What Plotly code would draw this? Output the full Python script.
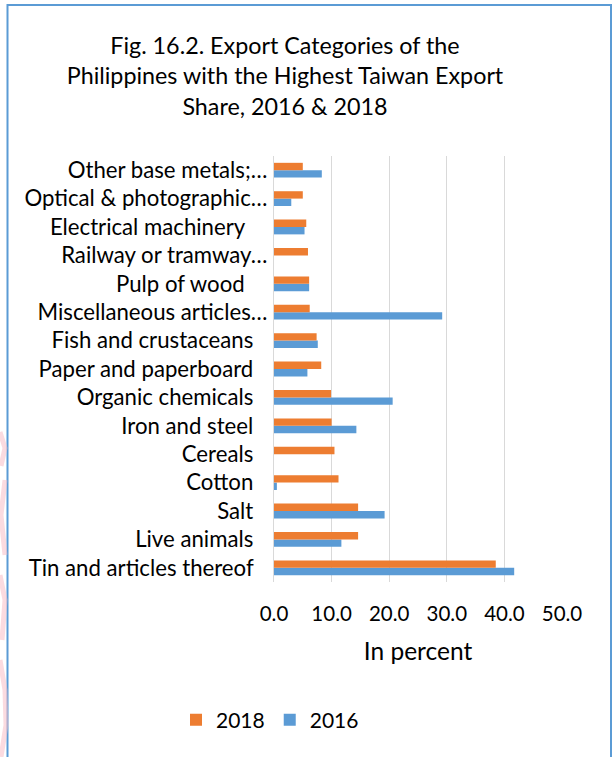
import plotly.graph_objects as go

# Export categories, listed bottom-to-top as they appear on the axis
categories = [
    "Tin and articles thereof",
    "Live animals",
    "Salt",
    "Cotton",
    "Cereals",
    "Iron and steel",
    "Organic chemicals",
    "Paper and paperboard",
    "Fish and crustaceans",
    "Miscellaneous articles…",
    "Pulp of wood",
    "Railway or tramway…",
    "Electrical machinery",
    "Optical & photographic…",
    "Other base metals;…",
]

# Taiwan export share, in percent
share_2018 = [38.5, 14.6, 14.6, 11.2, 10.5, 10.0, 9.9, 8.2, 7.4, 6.2, 6.1, 5.9, 5.6, 5.0, 5.0]
share_2016 = [41.7, 11.7, 19.2, 0.5, None, 14.3, 20.6, 5.8, 7.6, 29.2, 6.1, None, 5.3, 3.0, 8.3]

x_ticks = [0, 10, 20, 30, 40, 50]

W, H = 613, 757
ML, MR, MT, MB = 274, 51, 156, 175
FONT = "Lato, 'Open Sans', sans-serif"
ORANGE = "#ED7D31"
BLUE = "#5B9BD5"
GRID = "#D9D9D9"

# labels that are not truncated sit a little further from the axis
def pad(label):
    if label.endswith("…"):
        return label
    if label in ("Electrical machinery", "Pulp of wood"):
        return label + "\u00a0" * 4
    return label + "\u00a0\u00a0\u2009"

fig = go.Figure()
fig.add_trace(go.Bar(
    y=categories, x=share_2016, name="2016", orientation="h",
    marker=dict(color=BLUE, line=dict(width=0)),
))
fig.add_trace(go.Bar(
    y=categories, x=share_2018, name="2018", orientation="h",
    marker=dict(color=ORANGE, line=dict(width=0)),
))

# outer chart frame and page decoration, given in pixels and converted to paper units
pw, ph = W - ML - MR, H - MT - MB
def px_x(p):
    return (p - ML) / pw
def px_y(p):
    return (H - MB - p) / ph

fig.add_shape(
    type="rect", xref="paper", yref="paper",
    x0=px_x(7.5), x1=px_x(611), y0=px_y(765), y1=px_y(5),
    line=dict(color="#5B9BD5", width=2), fillcolor="rgba(0,0,0,0)", layer="below",
)

# faint pink strokes of a page watermark along the left edge
strokes = [
    [(0, 432), (5, 448), (1, 466)],
    [(5, 480), (1, 515), (5, 555)],
    [(0, 575), (5, 600), (2, 640)],
    [(0, 660), (5, 690), (6, 725), (1, 757)],
]
for s in strokes:
    (a0, b0), rest = s[0], s[1:]
    path = f"M {px_x(a0):.5f},{px_y(b0):.5f}"
    for a, b in rest:
        path += f" L {px_x(a):.5f},{px_y(b):.5f}"
    fig.add_shape(
        type="path", xref="paper", yref="paper", path=path,
        line=dict(color="rgba(248,190,198,0.55)", width=5), layer="below",
    )

fig.update_layout(
    width=W, height=H,
    margin=dict(l=ML, r=MR, t=MT, b=MB, pad=0),
    paper_bgcolor="white", plot_bgcolor="white",
    font=dict(family=FONT, color="#000000", size=21),
    barmode="group", bargap=0.48, bargroupgap=0,
    title=dict(
        text="Fig. 16.2. Export Categories of the<br>Philippines with the Highest Taiwan Export<br>Share, 2016 & 2018",
        x=285 / W, xanchor="center", xref="container",
        y=1 - 54 / H, yanchor="middle", yref="container",
        font=dict(family=FONT, size=23.3, color="#000000"),
    ),
    xaxis=dict(
        range=[0, 50], tickvals=x_ticks,
        ticktext=[f"{v:.1f}" for v in x_ticks],
        showgrid=True, gridcolor=GRID, gridwidth=1.3,
        zeroline=False, showline=False, ticks="",
        ticklabelstandoff=17,
        tickfont=dict(size=20.5),
        title=dict(text="In percent", standoff=19, font=dict(size=24.5)),
        fixedrange=True,
    ),
    yaxis=dict(
        type="category",
        tickvals=categories, ticktext=[pad(c) for c in categories],
        showgrid=False, zeroline=False,
        showline=True, linecolor=GRID, linewidth=1.3,
        ticks="", ticklabelstandoff=1,
        tickfont=dict(size=22.2),
        fixedrange=True,
    ),
    legend=dict(
        orientation="h", traceorder="reversed",
        xref="container", yref="container",
        x=270 / W, xanchor="center",
        y=1 - 720 / H, yanchor="middle",
        font=dict(size=21),
        bgcolor="rgba(0,0,0,0)",
    ),
    showlegend=True,
)

fig.write_html("out.html")
